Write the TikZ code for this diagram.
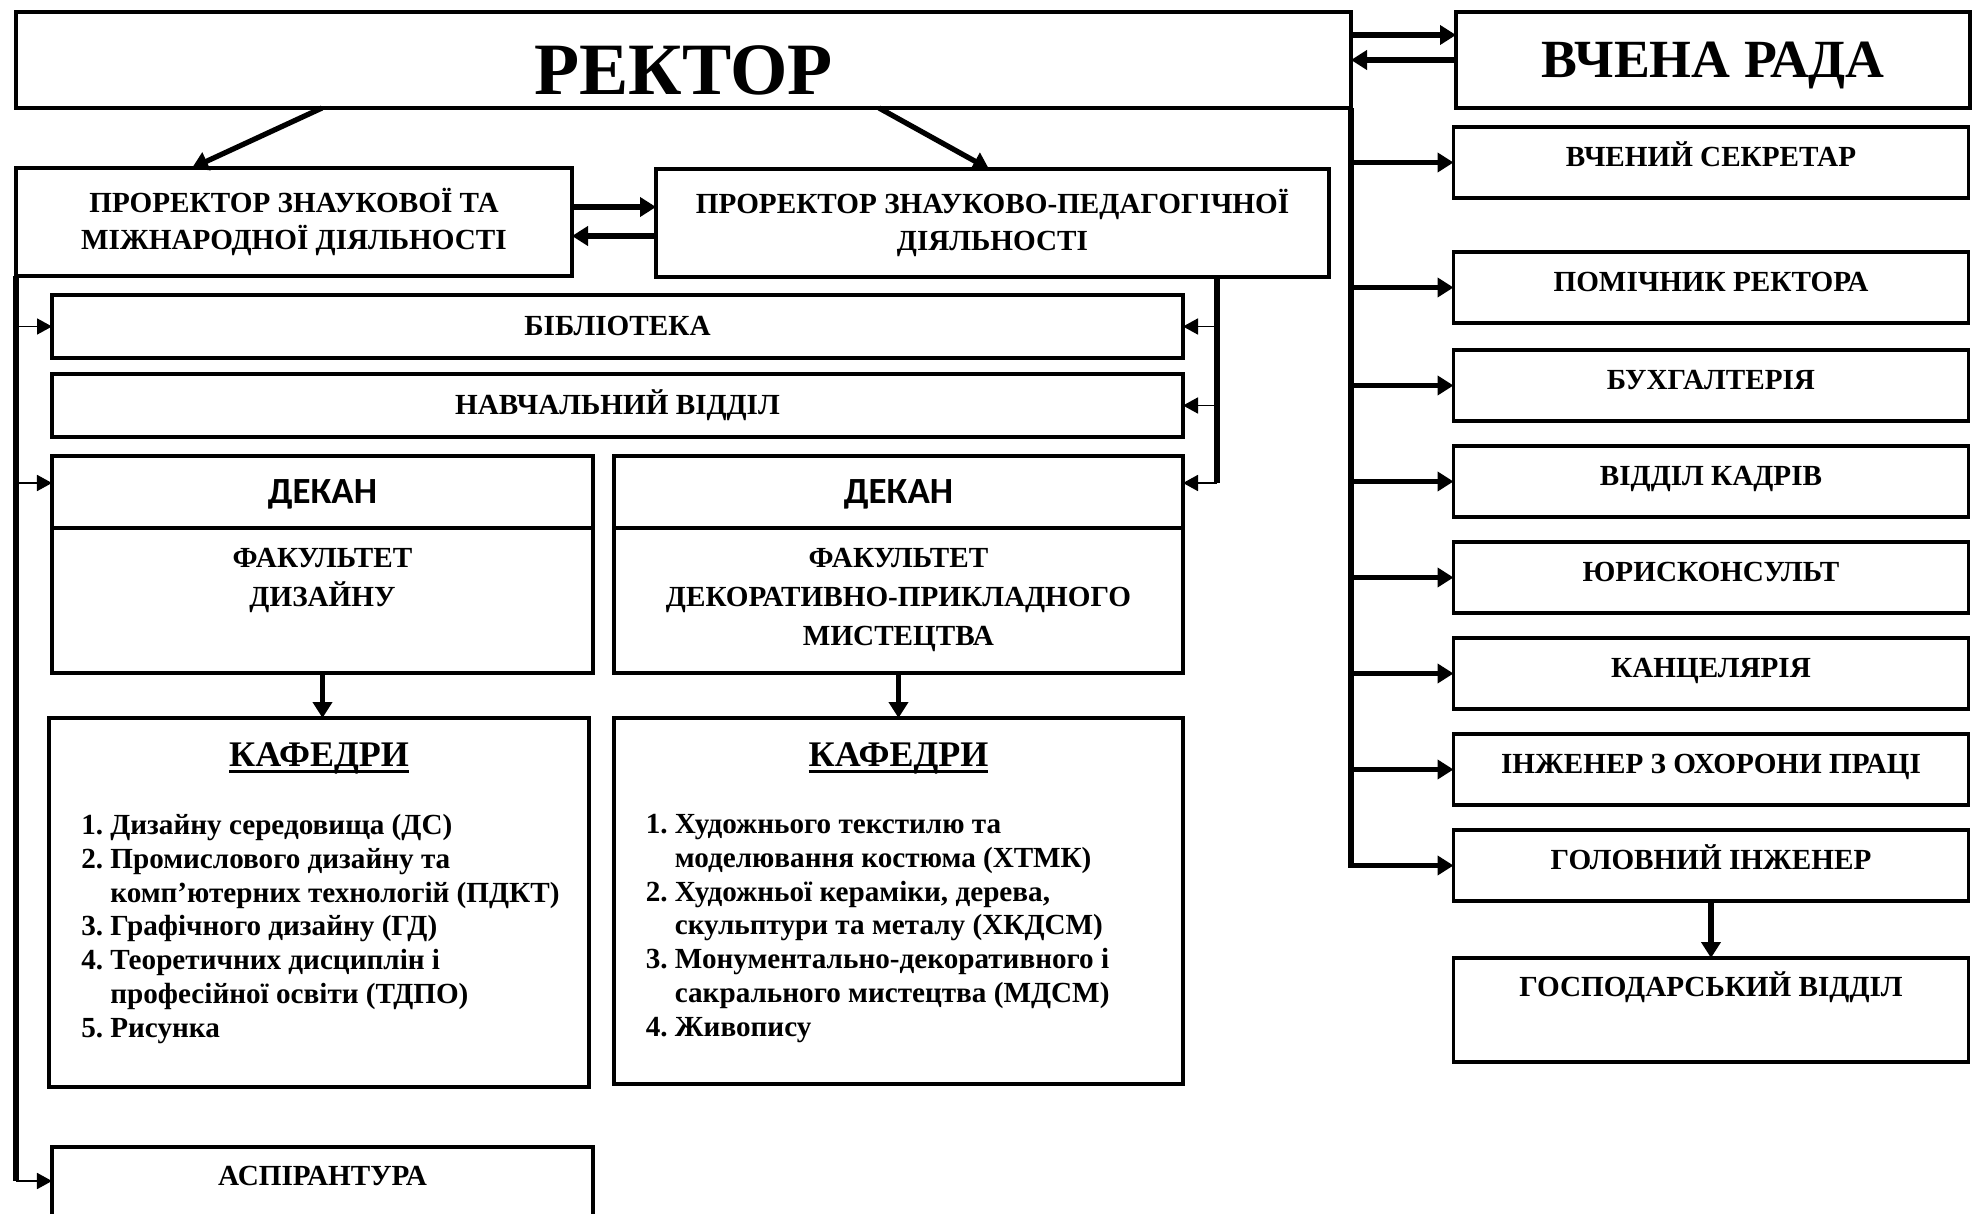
\documentclass[tikz,border=0pt]{standalone}
\usepackage{fontspec}
\setmainfont{Liberation Serif}
\newfontfamily\deanfont{Carlito}
\usetikzlibrary{positioning}
\usetikzlibrary{arrows.meta}
\newcommand{\chairitem}[1]{\makebox[0.58cm][l]{#1}}
\newcommand{\chairpad}{\hspace*{0.58cm}}
\newcommand{\chairtitle}[1]{\setbox0\hbox{#1}\rlap{\rule[-4pt]{\wd0}{1.6pt}}\box0}

\begin{document}
\begin{tikzpicture}[->,>={Triangle[length=0.32cm,width=0.38cm]}]
\tikzstyle{box}=[rectangle,
  draw=black,line width=1.8pt,text=black,
  outer sep=0pt,inner sep=0pt,align=center,
  font=\bfseries\fontsize{16.6}{21.5}\selectfont
]
\tikzstyle{capsline}=[text height=10.8pt,text depth=0pt]
\tikzstyle{headbox}=[box,line width=2.8pt]
\tikzstyle{rightbox}=[box,capsline,line width=2pt,
  minimum width=10.3cm,
  minimum height=1.42cm,
  text depth=5.7pt
]
\tikzstyle{dean}=[box,
  minimum height=1.44cm,
  text height=13.5pt,text depth=0pt,
  font=\deanfont\bfseries\fontsize{21}{25}\selectfont
]
\tikzstyle{facbox}=[box,minimum height=2.9cm]
\tikzstyle{boxtext}=[inner sep=0pt,align=center,
  font=\bfseries\fontsize{16.6}{22.2}\selectfont]
\tikzstyle{chairhead}=[inner sep=0pt,
  font=\bfseries\fontsize{20.5}{24}\selectfont]
\tikzstyle{chairlist}=[inner sep=0pt,align=left,
  font=\bfseries\fontsize{16.6}{19.2}\selectfont]
\tikzstyle{link}=[line width=3pt]
\tikzstyle{thinlink}=[line width=1pt,-{Triangle[length=0.3cm,width=0.32cm]}]
\tikzstyle{trunk}=[-,line width=3pt]

\useasboundingbox (0,0) rectangle (39.54,-24.28);

\node[headbox, minimum width=26.7cm, minimum height=1.92cm,
  font=\bfseries\fontsize{42}{48}\selectfont,
  text height=38.9pt, text depth=0pt] (rector) at (13.67,-1.20) {РЕКТОР};
\node[headbox, minimum width=10.28cm, minimum height=1.92cm,
  font=\bfseries\fontsize{30.6}{36}\selectfont,
  text height=20.1pt, text depth=0pt] (council) at (34.26,-1.20) {ВЧЕНА РАДА};

\node[rightbox]                              (secretary)  at (34.22,-3.25) {ВЧЕНИЙ СЕКРЕТАР};
\node[rightbox, below=1.08cm of secretary]  (assistant)  {ПОМІЧНИК РЕКТОРА};
\node[rightbox, below=0.54cm of assistant]  (accounting) {БУХГАЛТЕРІЯ};
\node[rightbox, below=0.5cm of accounting]  (staff)      {ВІДДІЛ КАДРІВ};
\node[rightbox, below=0.5cm of staff]       (lawyer)     {ЮРИСКОНСУЛЬТ};
\node[rightbox, below=0.5cm of lawyer]      (office)     {КАНЦЕЛЯРІЯ};
\node[rightbox, below=0.5cm of office]      (safety)     {ІНЖЕНЕР З ОХОРОНИ ПРАЦІ};
\node[rightbox, below=0.5cm of safety]      (engineer)   {ГОЛОВНИЙ ІНЖЕНЕР};
\node[rightbox, below=1.14cm of engineer, minimum height=2.08cm,
  text depth=26pt]                          (household)  {ГОСПОДАРСЬКИЙ ВІДДІЛ};

\node[headbox, minimum width=11.12cm, minimum height=2.16cm] (vicesci) at (5.88,-4.44)
  {ПРОРЕКТОР ЗНАУКОВОЇ ТА\\МІЖНАРОДНОЇ ДІЯЛЬНОСТІ};
\node[headbox, minimum width=13.46cm, minimum height=2.16cm] (viceped) at (19.85,-4.46)
  {ПРОРЕКТОР ЗНАУКОВО-ПЕДАГОГІЧНОЇ\\ДІЯЛЬНОСТІ};

\node[box, capsline, minimum width=22.62cm, minimum height=1.26cm] (library) at (12.35,-6.53) {БІБЛІОТЕКА};
\node[box, capsline, minimum width=22.62cm, minimum height=1.26cm,
  below=0.32cm of library] (studies) {НАВЧАЛЬНИЙ ВІДДІЛ};

\node[dean, minimum width=10.82cm] (deanl) at (6.45,-9.84) {ДЕКАН};
\node[facbox, minimum width=10.82cm, below=0cm of deanl] (facl) {};
\node[dean, minimum width=11.38cm] (deanr) at (17.97,-9.84) {ДЕКАН};
\node[facbox, minimum width=11.38cm, below=0cm of deanr] (facr) {};
\node[boxtext, anchor=north] (facl-name) at ([yshift=-0.39cm]facl.north)
  {ФАКУЛЬТЕТ\\ДИЗАЙНУ};
\node[boxtext, anchor=north] (facr-name) at ([yshift=-0.39cm]facr.north)
  {ФАКУЛЬТЕТ\\ДЕКОРАТИВНО-ПРИКЛАДНОГО\\МИСТЕЦТВА};

\node[box, minimum width=10.8cm, minimum height=7.38cm] (chairl) at (6.38,-18.05) {};
\node[box, minimum width=11.38cm, minimum height=7.32cm] (chairr) at (17.97,-18.02) {};
\node[chairhead, anchor=base] (chairl-head) at ([yshift=-0.96cm]chairl.north) {\chairtitle{КАФЕДРИ}};
\node[chairhead, anchor=base] (chairr-head) at ([yshift=-0.96cm]chairr.north) {\chairtitle{КАФЕДРИ}};
\node[chairlist, anchor=north west] (chairl-list) at ([xshift=0.64cm,yshift=-1.92cm]chairl.north west)
  {\chairitem{1.}Дизайну середовища (ДС)\\
   \chairitem{2.}Промислового дизайну та\\
   \chairpad комп’ютерних технологій (ПДКТ)\\
   \chairitem{3.}Графічного дизайну (ГД)\\
   \chairitem{4.}Теоретичних дисциплін і\\
   \chairpad професійної освіти (ТДПО)\\
   \chairitem{5.}Рисунка};
\node[chairlist, anchor=north west] (chairr-list) at ([xshift=0.63cm,yshift=-1.92cm]chairr.north west)
  {\chairitem{1.}Художнього текстилю та\\
   \chairpad моделювання костюма (ХТМК)\\
   \chairitem{2.}Художньої кераміки, дерева,\\
   \chairpad скульптури та металу (ХКДСМ)\\
   \chairitem{3.}Монументально-декоративного і\\
   \chairpad сакрального мистецтва (МДСМ)\\
   \chairitem{4.}Живопису};

\node[box, capsline, minimum width=10.82cm, minimum height=2cm,
  text depth=24pt] (aspirant) at (6.45,-23.94) {АСПІРАНТУРА};

\draw[link] ([xshift=6.12cm]rector.south west) -- ([xshift=3.52cm]vicesci.north west);
\draw[link] ([xshift=17.26cm]rector.south west) -- ([xshift=6.66cm]viceped.north west);
\draw[link] ([yshift=0.3cm]vicesci.east) -- ([yshift=0.3cm]vicesci.east -| viceped.west);
\draw[link] ([yshift=-0.26cm]viceped.west) -- ([yshift=-0.26cm]viceped.west -| vicesci.east);
\draw[link] ([yshift=0.5cm]rector.east) -- ([yshift=0.5cm]council.west);
\draw[link] (council.west) -- (rector.east);

\draw[link] (rector.south east) |- (engineer.west);
\foreach \unit in {secretary,assistant,accounting,staff,lawyer,office,safety}
  \draw[link] (rector.south east |- \unit.west) -- (\unit.west);
\draw[link] (engineer.south) -- (household.north);

\coordinate (asparrow) at ([yshift=-0.68cm]aspirant.north west);
\draw[trunk] (vicesci.south west) -- (vicesci.south west |- asparrow);
\draw[thinlink] (vicesci.south west |- library.west) -- (library.west);
\draw[thinlink] ([yshift=0.18cm]deanl.west -| vicesci.south west) -- ([yshift=0.18cm]deanl.west);
\draw[thinlink] (vicesci.south west |- asparrow) -- (asparrow);

\coordinate (pedtrunk) at ([xshift=-2.24cm]viceped.south east);
\draw[trunk] (pedtrunk) -- ([yshift=0.18cm]deanr.east -| pedtrunk);
\draw[thinlink] (library.east -| pedtrunk) -- (library.east);
\draw[thinlink] (studies.east -| pedtrunk) -- (studies.east);
\draw[thinlink] ([yshift=0.18cm]deanr.east -| pedtrunk) -- ([yshift=0.18cm]deanr.east);

\draw[link, line width=2.4pt] (facl.south) -- (facl.south |- chairl.north);
\draw[link, line width=2.4pt] (facr.south) -- (facr.south |- chairr.north);
\end{tikzpicture}
\end{document}
